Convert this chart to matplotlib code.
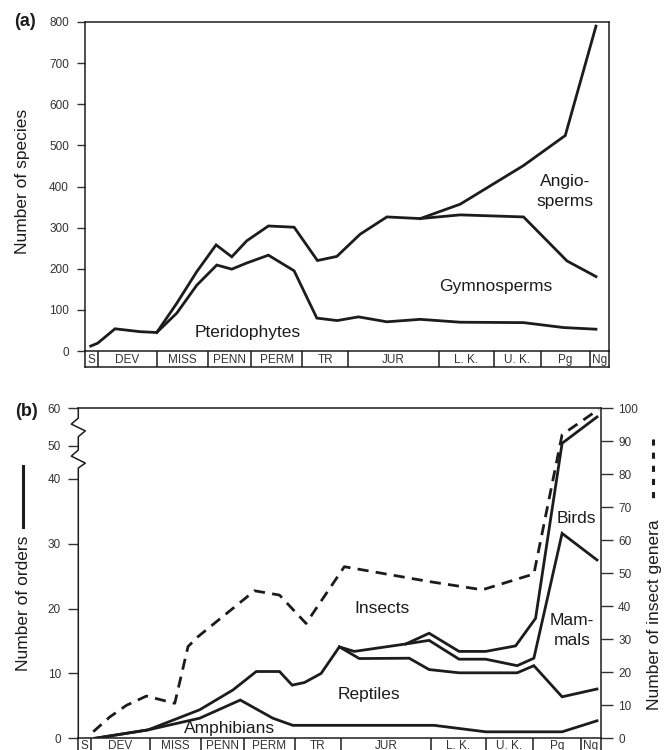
import matplotlib
matplotlib.use('Agg')
import matplotlib.pyplot as plt
import numpy as np
from matplotlib.lines import Line2D
import matplotlib.transforms as mtrans

plt.rcParams['font.family'] = ['Liberation Sans', 'DejaVu Sans']

# ---------------- data ----------------
period_labels = ['S', 'DEV', 'MISS', 'PENN', 'PERM', 'TR', 'JUR', 'L. K.', 'U. K.', 'Pg', 'Ng']
period_bounds = [0, 12.7, 71.7, 123.3, 165.7, 217.3, 263.3, 353.3, 408.3, 456, 504.3, 523.7]

# Panel (a): cumulative number of species
pter_x = [5.7, 12.7, 30, 55, 71.7, 91.7, 111.7, 131.7, 146.7, 161.7, 183.3, 209, 231.7, 252,
          273.3, 301.7, 335, 375, 438.3, 478.3, 510.7]
pter_y = [12, 19, 54, 47, 45, 92, 160, 209, 199, 214, 233, 195, 80, 74,
          83, 71, 77, 70, 69, 57, 53]
gymno_x = [71.7, 91.7, 111.7, 131, 146.7, 161.7, 183.3, 209, 232.3, 251.7, 275, 301.7, 335,
           375, 438.3, 481.7, 510.7]
gymno_y = [45, 116, 193, 258, 229, 268, 304, 301, 220, 230, 284, 326, 322,
           331, 326, 219, 181]
angio_x = [335, 375, 438.3, 480, 510.7]
angio_y = [322, 357, 451, 524, 790]

# Panel (b): cumulative number of orders (left axis)
amph_x = [16.7, 70, 121.7, 162.4, 195, 215, 356.7, 408.4, 485, 520]
amph_y = [0, 1.3, 3.1, 5.9, 3.1, 2.0, 2.0, 1.0, 1.0, 2.7]
rept_x = [16.7, 70, 121.7, 155, 178.4, 201.7, 214.4, 226.7, 243.4, 261.7, 281.7, 331.7,
          351.7, 381.7, 440, 456.7, 485, 520]
rept_y = [0, 1.3, 4.4, 7.45, 10.3, 10.3, 8.2, 8.6, 10.0, 14.1, 12.3, 12.35,
          10.6, 10.1, 10.1, 11.2, 6.4, 7.6]
mamm_x = [261.7, 276.7, 328.4, 351.7, 381.7, 408.4, 440, 456.7, 485, 520]
mamm_y = [14.1, 13.4, 14.55, 15.1, 12.2, 12.2, 11.2, 12.35, 31.6, 27.5]
bird_x = [328.4, 351.7, 381.7, 408.4, 438.4, 458.4, 485, 520]
bird_y = [14.55, 16.2, 13.4, 13.4, 14.25, 18.5, 50.7, 57.7]
# insect genera (right axis)
ins_x = [15, 31.7, 48.3, 68.3, 96.7, 110, 120, 176.7, 201.7, 228.3, 260, 266.7, 351.7,
         405, 456.7, 485, 521.7]
ins_y = [2, 6.5, 10, 12.8, 10.6, 27.8, 30.8, 44.7, 43.4, 34.8, 49, 52, 47.5,
         45, 49.8, 92, 99.7]

a_ticks = list(range(0, 801, 100))
b_left_ticks = [0, 10, 20, 30, 40, 50, 60]
b_right_ticks = list(range(0, 101, 10))
# broken left scale (orders -> display fraction)
brk_in = [0, 40, 50, 60]
brk_out = [0, 78.6, 88.6, 100]

# ---------------- style ----------------
INK = '#1c1c1c'
TICK = '#333333'
LW = 2.0
LBL = 12.5
TKS = 8.5

W, H = 668, 750
fig = plt.figure(figsize=(W / 100, H / 100), dpi=100)


def px_axes(l, t, r, b):
    return fig.add_axes([l / W, 1 - b / H, (r - l) / W, (b - t) / H])


def make_strip(ax, ytext, va):
    ax.set_xlim(period_bounds[0], period_bounds[-1])
    ax.set_ylim(0, 1)
    ax.set_xticks([])
    ax.set_yticks([])
    ax.spines['top'].set_visible(False)
    for s in ['left', 'right', 'bottom']:
        ax.spines[s].set_linewidth(1.1)
        ax.spines[s].set_color(INK)
    for bnd in period_bounds[1:-1]:
        ax.axvline(bnd, color=INK, lw=1.1)
    for i, lab in enumerate(period_labels):
        mid = 0.5 * (period_bounds[i] + period_bounds[i + 1])
        ax.text(mid, ytext, lab, ha='center', va=va, fontsize=TKS, color=TICK)
    ax.patch.set_alpha(0)


# ---------------- panel (a) ----------------
axa = px_axes(85, 22, 609, 351)
axa.set_xlim(period_bounds[0], period_bounds[-1])
axa.set_ylim(0, 800)
axa.plot(pter_x, pter_y, color=INK, lw=LW, solid_joinstyle='miter')
axa.plot(gymno_x, gymno_y, color=INK, lw=LW, solid_joinstyle='miter')
axa.plot(angio_x, angio_y, color=INK, lw=LW, solid_joinstyle='miter')
axa.set_xticks([])
axa.set_yticks(a_ticks)
axa.set_yticklabels([str(t) for t in a_ticks])
axa.tick_params(axis='y', direction='out', length=6, width=1.0, pad=5.5,
                labelsize=TKS, colors=TICK)
for s in axa.spines.values():
    s.set_linewidth(1.1)
    s.set_color(INK)
axa.text(163, 44, 'Pteridophytes', ha='center', va='center', fontsize=LBL, color=INK)
axa.text(410.5, 156, 'Gymnosperms', ha='center', va='center', fontsize=LBL, color=INK)
axa.text(480, 387, 'Angio-\nsperms', ha='center', va='center', fontsize=LBL, color=INK,
         linespacing=1.4)

sa = px_axes(85, 351, 609, 367)
make_strip(sa, 0.45, 'center')

fig.text(23 / W, 1 - 181 / H, 'Number of species', rotation=90, ha='center', va='center',
         fontsize=LBL, color=INK)
fig.text(25 / W, 1 - 21 / H, '(a)', ha='center', va='center', fontsize=13,
         fontweight='bold', color=INK)

# ---------------- panel (b) ----------------
axb = px_axes(78.3, 408.3, 600.7, 738.3)


def fwd(y):
    return np.interp(y, brk_in, brk_out)


def inv(y):
    return np.interp(y, brk_out, brk_in)


axb.set_yscale('function', functions=(fwd, inv))
axb.set_xlim(period_bounds[0], period_bounds[-1])
axb.set_ylim(0, 60)
axb.plot(amph_x, amph_y, color=INK, lw=LW, solid_joinstyle='miter')
axb.plot(rept_x, rept_y, color=INK, lw=LW, solid_joinstyle='miter')
axb.plot(mamm_x, mamm_y, color=INK, lw=LW, solid_joinstyle='miter')
axb.plot(bird_x, bird_y, color=INK, lw=LW, solid_joinstyle='miter')
axb.set_xticks([])
axb.set_yticks(b_left_ticks)
axb.set_yticklabels([str(t) for t in b_left_ticks])
axb.yaxis.set_minor_locator(matplotlib.ticker.NullLocator())
axb.tick_params(axis='y', direction='out', length=7, width=1.0, pad=5.5,
                labelsize=TKS, colors=TICK)
axb.spines['left'].set_visible(False)
axb.spines['right'].set_visible(False)
for s in ['top', 'bottom']:
    axb.spines[s].set_linewidth(1.1)
    axb.spines[s].set_color(INK)

# left axis line with zigzag break marks
dx = 7.0 / 522.4
zz_x = [0, 0, -dx, dx, 0, 0, -dx, dx, 0, 0]
zz_y = [60, 57.4, 55.8, 54.0, 52.45, 48.76, 46.9, 44.8, 43.3, 0]
blend = mtrans.blended_transform_factory(axb.transAxes, axb.transData)
axb.add_line(Line2D(zz_x, zz_y, transform=blend, color=INK, lw=1.1, clip_on=False))

ax2 = axb.twinx()
ax2.set_ylim(0, 100)
ax2.plot(ins_x, ins_y, color=INK, lw=LW, linestyle=(0, (4, 2.6)))
ax2.set_yticks(b_right_ticks)
ax2.set_yticklabels([str(t) for t in b_right_ticks])
ax2.tick_params(axis='y', direction='out', length=8.5, width=1.0, pad=4,
                labelsize=TKS, colors=TICK)
for s in ['left', 'top', 'bottom']:
    ax2.spines[s].set_visible(False)
ax2.spines['right'].set_linewidth(1.1)
ax2.spines['right'].set_color(INK)

axb.text(151.7, 1.5, 'Amphibians', ha='center', va='center', fontsize=LBL, color=INK)
axb.text(291.7, 6.7, 'Reptiles', ha='center', va='center', fontsize=LBL, color=INK)
axb.text(304.2, 20, 'Insects', ha='center', va='center', fontsize=LBL, color=INK)
axb.text(499, 33.95, 'Birds', ha='center', va='center', fontsize=LBL, color=INK)
axb.text(495, 16.6, 'Mam-\nmals', ha='center', va='center', fontsize=LBL, color=INK,
         linespacing=1.4)

sb = px_axes(78.3, 738.3, 600.7, 754.3)
make_strip(sb, 0.36, 'baseline')

fig.text(26 / W, 1 - 411 / H, '(b)', ha='center', va='center', fontsize=13,
         fontweight='bold', color=INK)
fig.text(23.5 / W, 1 - 603 / H, 'Number of orders', rotation=90, ha='center', va='center',
         fontsize=LBL, color=INK)
fig.add_artist(Line2D([23.3 / W, 23.3 / W], [1 - 466 / H, 1 - 527 / H],
                      transform=fig.transFigure, color=INK, lw=2.2))
fig.text(654 / W, 1 - 615 / H, 'Number of insect genera', rotation=90, ha='center',
         va='center', fontsize=LBL, color=INK)
fig.add_artist(Line2D([653.3 / W, 653.3 / W], [1 - 439 / H, 1 - 501 / H],
                      transform=fig.transFigure, color=INK, lw=2.2,
                      linestyle=(0, (2.0, 2.3))))

fig.savefig('out.png', dpi=100)
